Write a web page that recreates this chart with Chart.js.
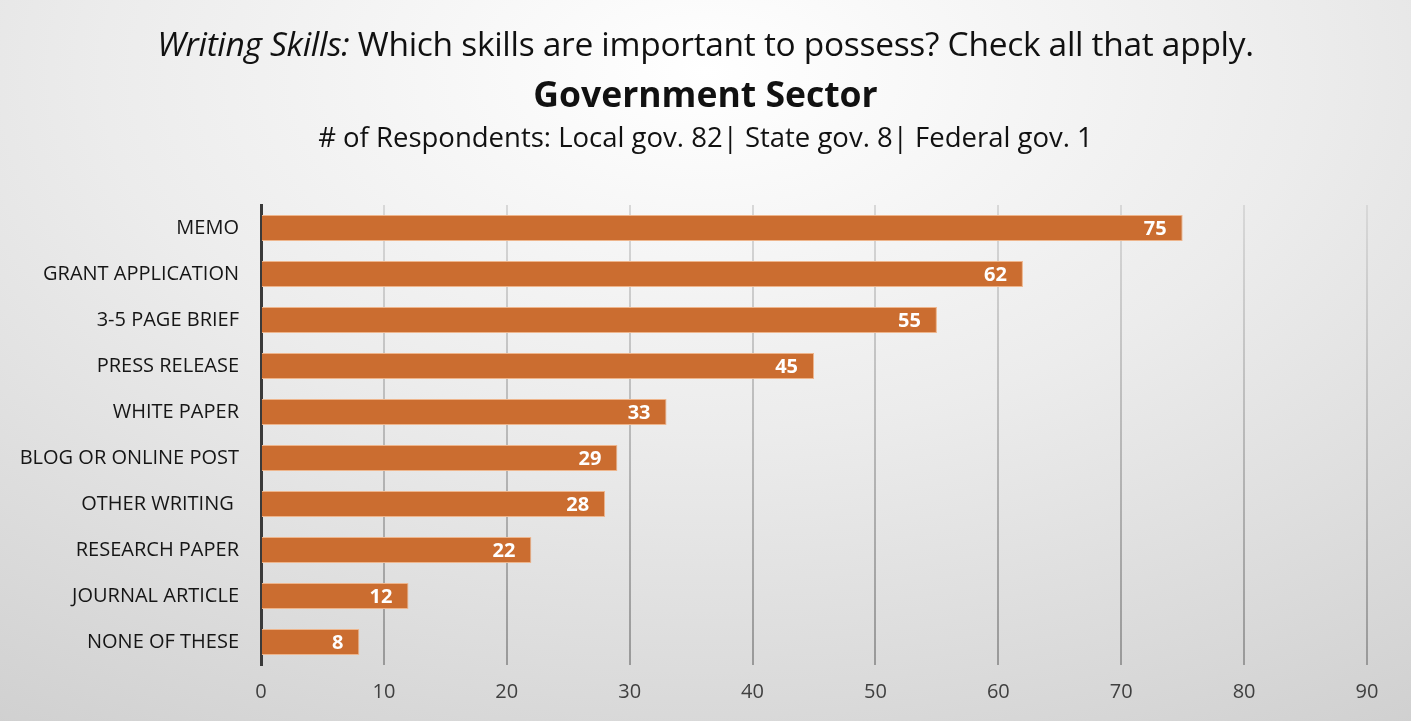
<!DOCTYPE html>
<html>
<head>
<meta charset="utf-8">
<script src="https://cdn.jsdelivr.net/npm/chart.js@4.4.1/dist/chart.umd.min.js"></script>
<style>
  html, body { margin: 0; padding: 0; }
  body {
    width: 1411px; height: 721px; overflow: hidden; position: relative;
    background: radial-gradient(ellipse 95% 110% at 50% 10%, #ffffff 0%, #ececec 45%, #cfcfcf 100%);
    font-family: "Open Sans", "Noto Sans", sans-serif;
  }
  #wrap { position: absolute; left: 0; top: 0; width: 1411px; height: 721px; }
  .t { position: absolute; left: 0; width: 1411px; text-align: center; color: #111; white-space: nowrap; }
  #t1 { top: 20px; font-size: 33.5px; letter-spacing: -0.3px; }
  #t2 { top: 69px; font-size: 35.5px; font-weight: bold; }
  #t3 { top: 118px; font-size: 27.5px; }
</style>
</head>
<body>
<div id="wrap"><canvas id="chart" width="1411" height="721"></canvas></div>
<div class="t" id="t1"><i>Writing Skills:</i> Which skills are important to possess? Check all that apply.</div>
<div class="t" id="t2">Government Sector</div>
<div class="t" id="t3"># of Respondents: Local gov. 82| State gov. 8| Federal gov. 1</div>
<script>
const categories = [
  "MEMO",
  "GRANT APPLICATION",
  "3-5 PAGE BRIEF",
  "PRESS RELEASE",
  "WHITE PAPER",
  "BLOG OR ONLINE POST",
  "OTHER WRITING ",
  "RESEARCH PAPER",
  "JOURNAL ARTICLE",
  "NONE OF THESE",
];
const responses = [75, 62, 55, 45, 33, 29, 28, 22, 12, 8];
const xTicks = [0, 10, 20, 30, 40, 50, 60, 70, 80, 90];

// white value labels inside the end of each bar
const barLabels = {
  id: "barLabels",
  afterDatasetsDraw(chart) {
    const ctx = chart.ctx;
    const meta = chart.getDatasetMeta(0);
    ctx.save();
    ctx.fillStyle = "#ffffff";
    ctx.font = "bold 20px 'Open Sans', sans-serif";
    ctx.textAlign = "right";
    ctx.textBaseline = "middle";
    meta.data.forEach((bar, i) => {
      ctx.fillText(String(responses[i]), bar.x - 16, bar.y + 1);
    });
    ctx.restore();
  },
};

function gridColor(context) {
  const area = context.chart.chartArea;
  if (!area) return "#b0b0b0";
  const g = context.chart.ctx.createLinearGradient(0, area.top, 0, area.bottom);
  g.addColorStop(0, "#d8d8d8");
  g.addColorStop(1, "#999999");
  return g;
}

new Chart(document.getElementById("chart"), {
  type: "bar",
  data: {
    labels: categories,
    datasets: [
      {
        data: responses,
        backgroundColor: "#cb6d30",
        borderColor: "#eeb58c",
        borderWidth: 1,
        borderSkipped: "left",
        barPercentage: 0.57,
        categoryPercentage: 1,
      },
    ],
  },
  options: {
    indexAxis: "y",
    responsive: false,
    animation: false,
    layout: { padding: { top: 205, right: 44, bottom: 0, left: 0 } },
    plugins: {
      legend: { display: false },
      tooltip: { enabled: false },
    },
    scales: {
      x: {
        min: 0,
        max: 90,
        afterBuildTicks: (scale) => {
          scale.ticks = xTicks.map((v) => ({ value: v }));
        },
        afterFit: (scale) => {
          scale.height = 56;
        },
        grid: {
          color: gridColor,
          lineWidth: 2,
          drawTicks: false,
        },
        border: { display: false },
        ticks: {
          padding: 15,
          color: "#404040",
          font: { size: 20, family: "'Open Sans', sans-serif" },
        },
      },
      y: {
        afterFit: (scale) => {
          scale.width = 261;
        },
        grid: { display: false },
        border: { display: true, color: "#3a3a3a", width: 3 },
        ticks: {
          padding: 14,
          color: "#161616",
          font: { size: 20, family: "'Open Sans', sans-serif" },
        },
      },
    },
  },
  plugins: [barLabels],
});
</script>
</body>
</html>
